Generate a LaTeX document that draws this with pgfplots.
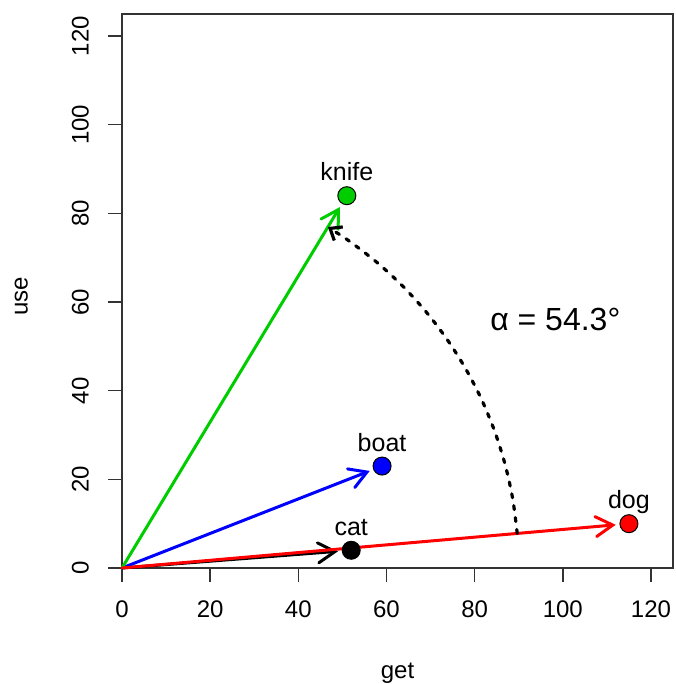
\documentclass[border=0pt]{standalone}
\usepackage{fontspec}
\setmainfont{Liberation Sans}
\usepackage{pgfplots}
\pgfplotsset{compat=1.18}
\usetikzlibrary{arrows.meta,calc}
\definecolor{rgreen}{HTML}{00CD00}
\definecolor{rblue}{HTML}{0000FF}
\definecolor{rred}{HTML}{FF0000}
\tikzset{rarrow/.style={-{Straight Barb[length=8.5pt,width=10pt,line cap=round]}, line width=1.5pt, line cap=round}}
\begin{document}
\begin{tikzpicture}
\begin{axis}[name=ax, scale only axis, width=275.5pt, height=277pt,
  xmin=0, xmax=125, ymin=0, ymax=125,
  xtick={0,20,...,120}, ytick={0,20,...,120},
  tick align=outside, tick pos=left, major tick length=7pt,
  tick style={black!80, line width=0.7pt}, axis line style={black!80, line width=0.7pt},
  ticklabel style={font=\fontsize{12}{14}\selectfont},
  /pgf/number format/assume math mode=true,
  yticklabel style={rotate=90, anchor=south},
  yticklabel shift=6pt,
  xticklabel style={anchor=north},
  xticklabel shift=6pt,
  xlabel={get}, ylabel={use},
  label style={font=\fontsize{12}{14}\selectfont},
  xlabel style={at={(axis description cs:0.5,-0.19)}, anchor=center},
  ylabel style={at={(axis description cs:-0.183,0.49)}, anchor=center, rotate=0},
  clip=false,
  nodes near coords, point meta=explicit symbolic,
  nodes near coords style={anchor=base, yshift=7.5pt, text=black, font=\fontsize{12.5}{15}\selectfont},
]
% points
\addplot[only marks, mark=*, mark size=4.5pt, mark options={draw=black, fill=black, line width=0.5pt}] coordinates {(52,4) [cat]};
\addplot[only marks, mark=*, mark size=4.5pt, mark options={draw=black, fill=rblue, line width=0.5pt}] coordinates {(59,23) [boat]};
\addplot[only marks, mark=*, mark size=4.5pt, mark options={draw=black, fill=rgreen, line width=0.5pt}] coordinates {(51,84) [knife]};
\addplot[only marks, mark=*, mark size=4.5pt, mark options={draw=black, fill=rred, line width=0.5pt}] coordinates {(115,10) [dog]};
% arrows
\addplot[black, rarrow, nodes near coords={}] coordinates {(0,0) (49.0,3.77)};
\addplot[rblue, rarrow, nodes near coords={}] coordinates {(0,0) (56.2,21.9)};
\addplot[rgreen, rarrow, nodes near coords={}] coordinates {(0,0) (49.44,81.44)};
\addplot[rred, rarrow, nodes near coords={}] coordinates {(0,0) (112.0,9.74)};
% angle arc
\addplot[black, line width=1.6pt, line cap=round, dash pattern=on 2pt off 4pt, smooth, nodes near coords={},
  -{Straight Barb[length=5pt,width=8pt]}] coordinates {
 (89.66,7.80) (88.63,15.63) (86.93,23.29) (84.57,30.78) (81.57,38.04) (77.94,45.00)
 (73.72,51.62) (68.94,57.85) (63.64,63.64) (57.85,68.94) (51.62,73.72) (46.71,76.93)};
\node[font=\fontsize{16}{19}\selectfont] at (axis cs:98.3,56) {α = 54.3°};
\end{axis}
\pgfresetboundingbox
\path[use as bounding box] ($(ax.south west)+(-61pt,-58pt)$) rectangle ($(ax.north east)+(1pt,7pt)$);
\end{tikzpicture}
\end{document}
